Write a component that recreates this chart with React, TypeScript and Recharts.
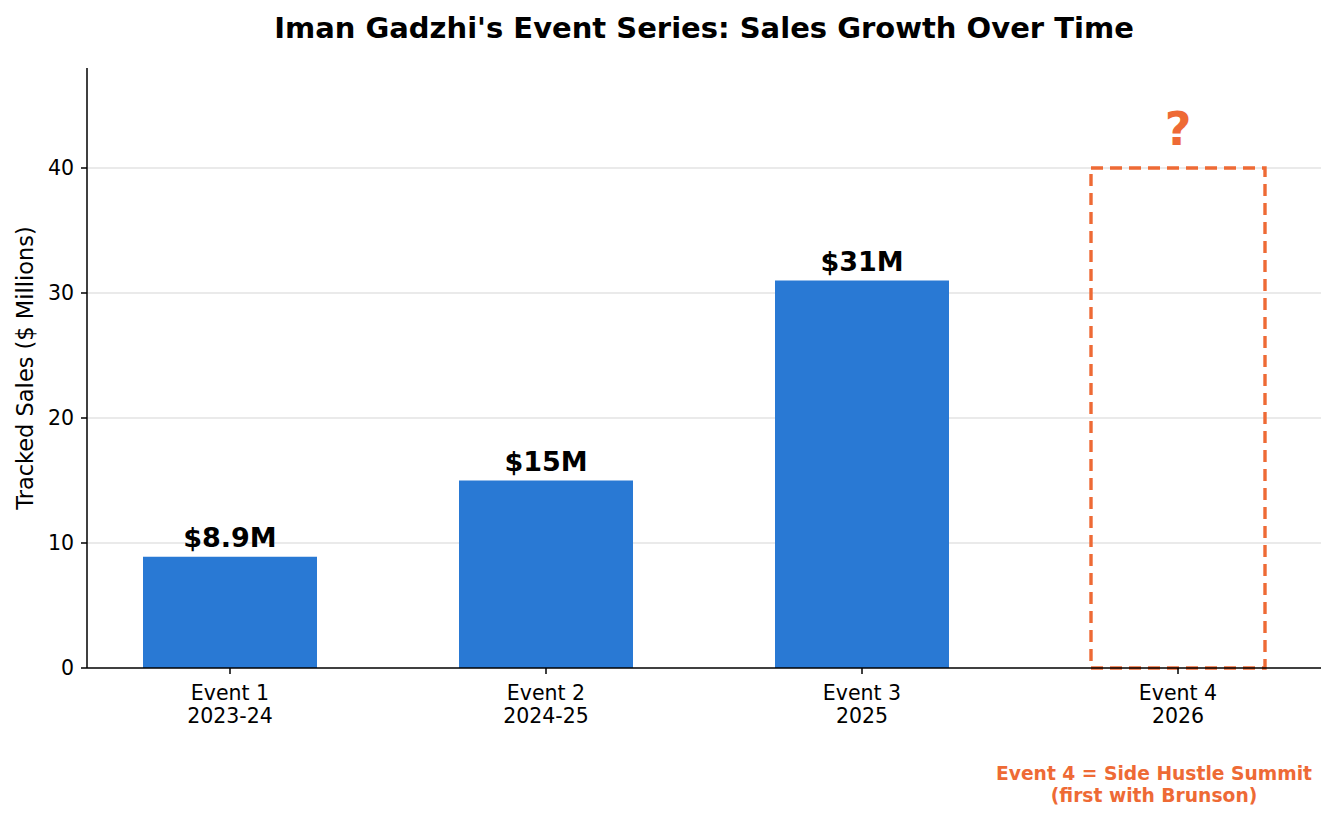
import React from "react";
import { BarChart, Bar, XAxis, YAxis, CartesianGrid, LabelList } from "recharts";

const categories = ["Event 1", "Event 2", "Event 3", "Event 4"];
const years = ["2023-24", "2024-25", "2025", "2026"];
const sales = [8.9, 15, 31, 0];
const projected = [0, 0, 0, 40];
const valueLabels = ["$8.9M", "$15M", "$31M", ""];
const yTicks = [0, 10, 20, 30, 40];
const gridValues = [10, 20, 30, 40];

const BLUE = "#2979D4";
const ORANGE = "#EE6A35";
const FONT = "'DejaVu Sans', sans-serif";

const data = categories.map((c, i) => ({
  name: c,
  year: years[i],
  sales: sales[i],
  projected: projected[i],
  label: valueLabels[i],
}));

const XTick = (props: any) => {
  const { x, y, payload, index } = props;
  return (
    <g>
      <text x={x} y={y + 24} textAnchor="middle" fontSize={20.5} fontFamily={FONT} fill="#000">
        {payload.value}
      </text>
      <text x={x} y={y + 47} textAnchor="middle" fontSize={20.5} fontFamily={FONT} fill="#000">
        {years[index]}
      </text>
    </g>
  );
};

const YTick = (props: any) => {
  const { x, y, payload } = props;
  return (
    <text x={x - 5} y={y + 7} textAnchor="end" fontSize={20.5} fontFamily={FONT} fill="#000">
      {payload.value}
    </text>
  );
};

const DashedShape = (props: any) => {
  const { x, y, width, height } = props;
  if (!height || height <= 0) return null;
  return (
    <rect
      x={x}
      y={y}
      width={width}
      height={height}
      fill="none"
      stroke={ORANGE}
      strokeWidth={3.4}
      strokeDasharray="12 7"
    />
  );
};

const SalesLabel = (props: any) => {
  const { x, y, width, value } = props;
  if (!value) return null;
  return (
    <text x={x + width / 2} y={y - 10} textAnchor="middle" fontSize={27} fontWeight="bold" fontFamily={FONT} fill="#000">
      {value}
    </text>
  );
};

const QLabel = (props: any) => {
  const { x, y, width, height } = props;
  if (!height || height <= 0) return null;
  return (
    <text x={x + width / 2} y={y - 23} textAnchor="middle" fontSize={46} fontWeight="bold" fontFamily={FONT} fill={ORANGE}>
      ?
    </text>
  );
};

export default function App() {
  return (
    <div style={{ position: "relative", width: 1335, height: 819, margin: "-8px 0 0 -8px", background: "#fff" }}>
      <BarChart
        width={1335}
        height={819}
        data={data}
        margin={{ top: 68, right: 14, bottom: 0, left: 0 }}
      >
        <CartesianGrid vertical={false} horizontalValues={gridValues} stroke="#e3e3e3" strokeWidth={1.3} />
        <XAxis
          dataKey="name"
          interval={0}
          padding={{ left: -15, right: -15 }}
          axisLine={{ stroke: "#000", strokeWidth: 1.5 }}
          tickLine={{ stroke: "#000", strokeWidth: 1.5 }}
          tickSize={6}
          tick={<XTick />}
          height={151}
        />
        <YAxis
          type="number"
          domain={[0, 48]}
          ticks={yTicks}
          width={87}
          axisLine={{ stroke: "#000", strokeWidth: 1.5 }}
          tickLine={{ stroke: "#000", strokeWidth: 1.5 }}
          tickSize={6}
          tick={<YTick />}
          label={{
            value: "Tracked Sales ($ Millions)",
            angle: -90,
            position: "insideLeft",
            dx: 20,
            style: { fontSize: 22.5, fontFamily: FONT, fill: "#000", textAnchor: "middle" },
          }}
        />
        <Bar dataKey="sales" stackId="a" fill={BLUE} barSize={174} isAnimationActive={false}>
          <LabelList dataKey="label" content={<SalesLabel />} />
        </Bar>
        <Bar dataKey="projected" stackId="a" shape={<DashedShape />} barSize={174} isAnimationActive={false}>
          <LabelList dataKey="projected" content={<QLabel />} />
        </Bar>
      </BarChart>
      <svg width={1335} height={819} style={{ position: "absolute", left: 0, top: 0, pointerEvents: "none" }}>
        <text x={704} y={38} textAnchor="middle" fontSize={29} fontWeight="bold" fontFamily={FONT} fill="#000">
          Iman Gadzhi's Event Series: Sales Growth Over Time
        </text>
        <text x={1154} y={780} textAnchor="middle" fontSize={18.7} fontWeight="bold" fontFamily={FONT} fill={ORANGE}>
          Event 4 = Side Hustle Summit
        </text>
        <text x={1154} y={802} textAnchor="middle" fontSize={18.7} fontWeight="bold" fontFamily={FONT} fill={ORANGE}>
          (first with Brunson)
        </text>
      </svg>
    </div>
  );
}
